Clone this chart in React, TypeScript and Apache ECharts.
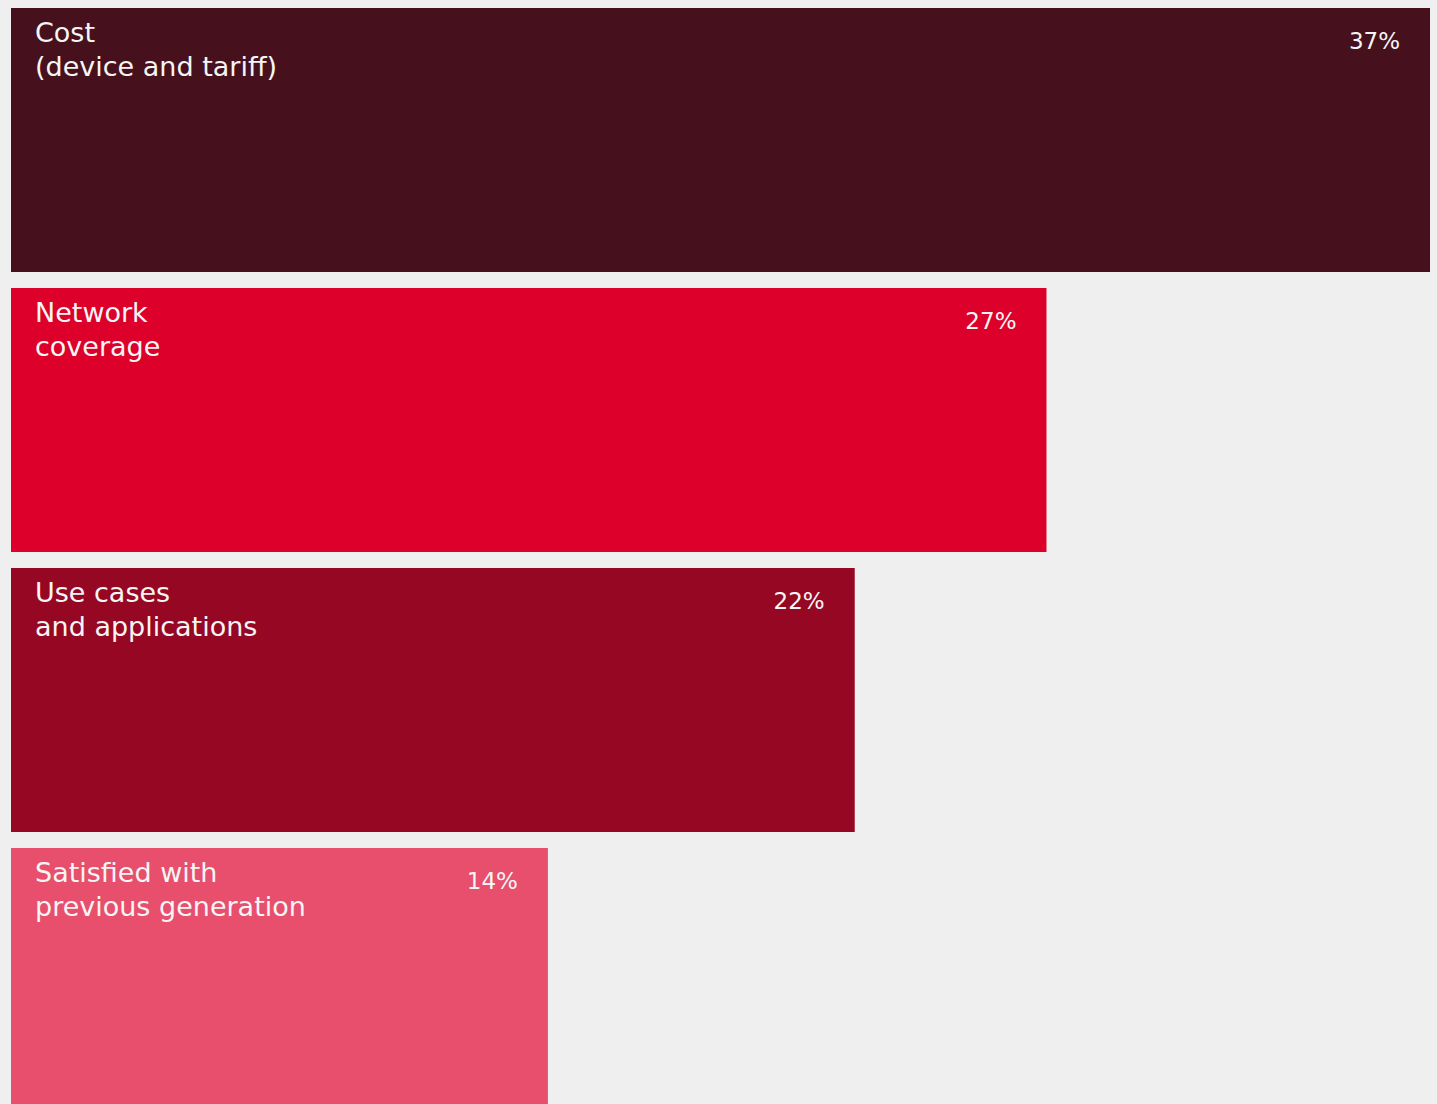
import React, { useEffect, useRef } from "react";
import * as echarts from "echarts";

const categories = ["Cost\n(device and tariff)", "Network\ncoverage", "Use cases\nand applications", "Satisfied with\nprevious generation"];
const values = [37, 27, 22, 14];
const colors = ["#46111c", "#dc002b", "#960723", "#e74f6c"];

export default function App() {
  const ref = useRef<HTMLDivElement>(null);
  useEffect(() => {
    document.body.style.margin = "0";
    document.body.style.overflow = "hidden";
    document.body.style.background = "#efefef";
    const chart = echarts.init(ref.current!, null, { renderer: "svg" });
    const font = "DejaVu Sans";
    chart.setOption({
      animation: false,
      backgroundColor: "#efefef",
      grid: { left: 11, top: 0, right: 7, bottom: 0 },
      xAxis: { type: "value", min: 0, max: 37, show: false },
      yAxis: { type: "category", data: categories, inverse: true, show: false },
      series: [
        {
          type: "bar",
          barWidth: 264,
          data: values.map((v, i) => ({ value: v, itemStyle: { color: colors[i] } })),
          label: {
            show: true,
            position: "insideTopLeft",
            distance: 0,
            offset: [24, 7],
            formatter: (p: any) => categories[p.dataIndex],
            color: "#f5f5f5",
            fontFamily: font,
            fontSize: 27,
            lineHeight: 34,
            align: "left",
            verticalAlign: "top",
          },
          silent: true,
        },
        {
          type: "bar",
          barWidth: 264,
          barGap: "-100%",
          data: values,
          itemStyle: { color: "rgba(0,0,0,0)" },
          label: {
            show: true,
            position: "insideTopRight",
            distance: 0,
            offset: [-30, 16],
            formatter: (p: any) => p.value + "%",
            color: "#f5f5f5",
            fontFamily: font,
            fontSize: 23,
            lineHeight: 34,
            align: "right",
            verticalAlign: "top",
          },
          silent: true,
        },
      ],
    });
    return () => chart.dispose();
  }, []);
  return <div ref={ref} style={{ width: 1437, height: 1120 }} />;
}
